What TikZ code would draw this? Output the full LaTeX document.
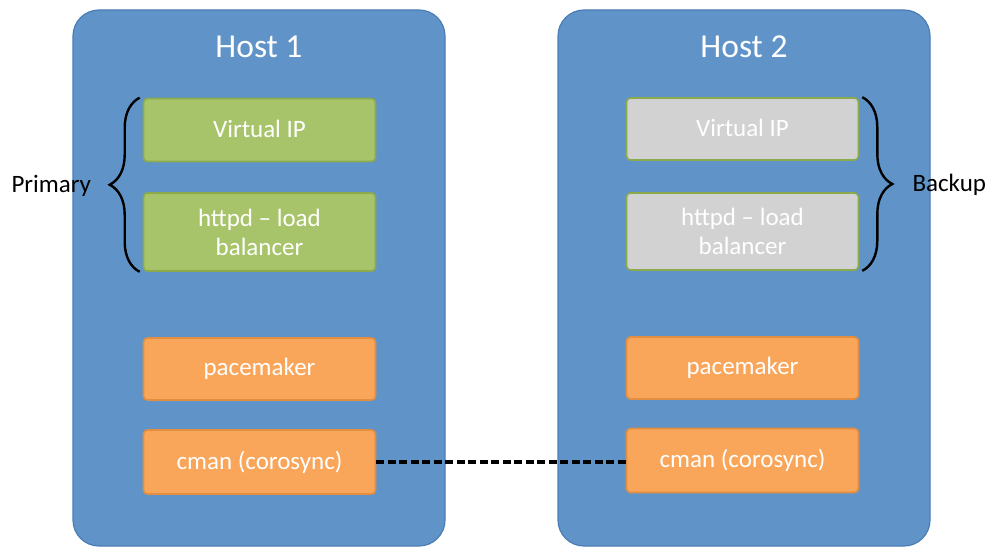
\documentclass[tikz,border=0pt]{standalone}
\usepackage{fontspec}
\setmainfont{Carlito}
\usetikzlibrary{decorations.pathreplacing}
\definecolor{hostblue}{HTML}{6094C8}
\definecolor{hostedge}{HTML}{4A7DB5}
\definecolor{grn}{HTML}{A8C46A}
\definecolor{grnedge}{HTML}{8AAA4C}
\definecolor{gry}{HTML}{D2D2D2}
\definecolor{org}{HTML}{F9A65A}
\definecolor{orgedge}{HTML}{E38D40}
\tikzset{
  hostbox/.style={draw=hostedge, line width=1.2pt, fill=hostblue, rounded corners=26pt,
    minimum width=372pt, minimum height=536pt, inner sep=0pt},
  title/.style={text=white, font=\fontsize{33.5}{38}\selectfont},
  comp/.style={draw, line width=1.6pt, rounded corners=4pt, minimum width=232pt,
    inner sep=0pt, text=white, align=center, font=\fontsize{25}{29}\selectfont},
  greenbox/.style={comp, fill=grn, draw=grnedge},
  graybox/.style={comp, fill=gry, draw=grnedge},
  orangebox/.style={comp, fill=org, draw=orgedge},
  lbl/.style={text=black, font=\fontsize{25}{29}\selectfont},
  bracestyle/.style={draw=black, line width=2.4pt, decorate,
    decoration={brace, amplitude=30pt}},
  link/.style={draw=black, line width=3.8pt, dash pattern=on 8pt off 3.5pt}
}
\begin{document}
\begin{tikzpicture}[x=1pt, y=-1pt]
\useasboundingbox (0,0) rectangle (990,548);
\node[hostbox] (h1) at (259,278) {};
\node[hostbox] (h2) at (744,278) {};
\node[title] (t1) at (259,47) {Host 1};
\node[title] (t2) at (744,47) {Host 2};
\node[greenbox, minimum height=63pt] (vip1) at (259.5,130) {\raisebox{3pt}{Virtual IP}};
\node[greenbox, minimum height=78pt] (lb1) at (259.5,232) {httpd -- load\\balancer};
\node[graybox, minimum height=62pt] (vip2) at (742.5,129) {\raisebox{3pt}{Virtual IP}};
\node[graybox, minimum height=77pt] (lb2) at (742.5,231.5) {httpd -- load\\balancer};
\node[orangebox, minimum height=62pt] (pm1) at (259.5,369) {\raisebox{3pt}{pacemaker}};
\node[orangebox, minimum height=64pt] (cm1) at (259.5,462) {\raisebox{3pt}{cman (corosync)}};
\node[orangebox, minimum height=62pt] (pm2) at (742.5,368) {\raisebox{3pt}{pacemaker}};
\node[orangebox, minimum height=64pt] (cm2) at (742.5,460.5) {\raisebox{3pt}{cman (corosync)}};
\coordinate (b1top) at ([xshift=-3pt]vip1.north west);
\coordinate (b1bot) at ([xshift=-3pt]lb1.south west);
\coordinate (b2top) at ([xshift=3pt]vip2.north east);
\coordinate (b2bot) at ([xshift=3pt]lb2.south east);
\draw[bracestyle] (b1bot) -- (b1top);
\draw[bracestyle] (b2top) -- (b2bot);
\node[lbl, anchor=west] (prim) at (8,186) {Primary};
\node[lbl, anchor=west] (back) at (909,185) {Backup};
\draw[link] (cm1.east) -- (cm2.west |- cm1.east);
\end{tikzpicture}
\end{document}
